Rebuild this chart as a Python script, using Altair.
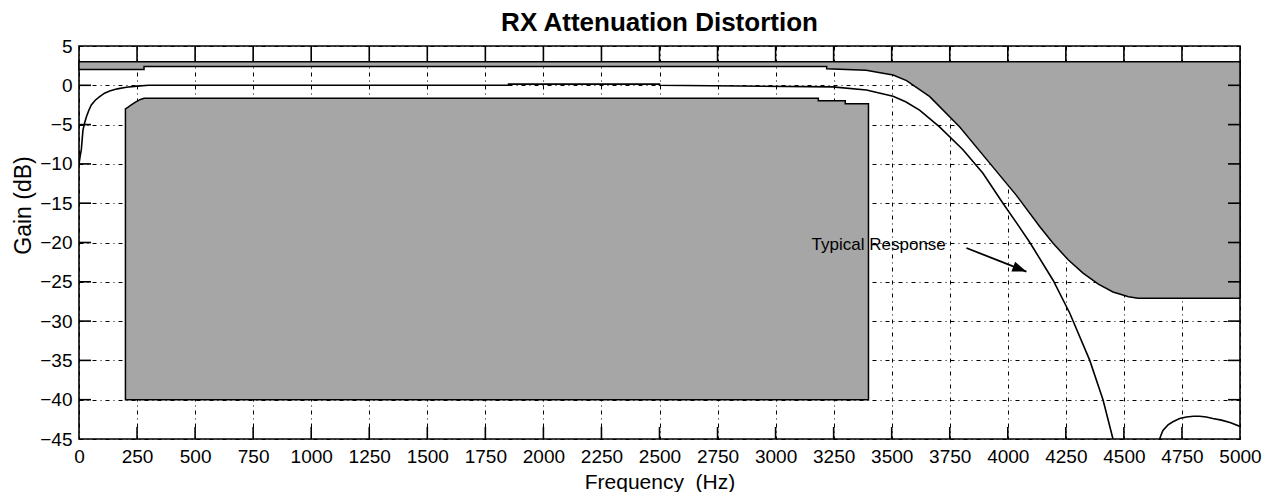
import altair as alt
import pandas as pd

# ---- data ----
# upper limit mask (gray from the limit up to +3 dB)
upper_f = [0, 280, 280, 3220, 3220, 3390, 3450, 3506, 3564, 3664, 3793, 3922, 4037,
           4138, 4195, 4260, 4324, 4390, 4453, 4520, 4561, 5000]
upper_db = [2.0, 2.0, 2.4, 2.4, 2.1, 1.9, 1.6, 1.3, 0.6, -1.45, -5.3, -9.9, -14.0,
            -18.0, -20.1, -22.2, -23.9, -25.3, -26.3, -26.9, -27.1, -27.1]
upper_top = 3.0

# lower limit mask (gray from -40 dB up to the limit)
lower_f = [200, 210, 225, 245, 265, 280, 3184, 3184, 3300, 3300, 3400]
lower_db = [-3.0, -2.8, -2.5, -2.1, -1.8, -1.65, -1.65, -1.95, -1.95, -2.35, -2.35]
lower_bottom = -40.0

# typical response, main lobe
typ_f = [0, 5, 10, 17, 25, 32, 42, 53, 70, 89, 110, 132, 165, 204, 250, 300, 1850,
         1850, 2500, 2500, 3246, 3391, 3506, 3560, 3620, 3706, 3807, 3893, 3979,
         4040, 4095, 4195, 4267, 4353, 4410, 4453]
typ_db = [-10.0, -9.0, -8.2, -5.7, -4.7, -4.0, -3.2, -2.5, -1.9, -1.45, -1.0, -0.73,
          -0.45, -0.25, -0.1, 0.0, 0.0, 0.15, 0.15, 0.0, -0.2, -0.6, -1.4, -2.1,
          -3.15, -5.3, -8.2, -11.2, -15.0, -17.6, -20.0, -24.8, -29.0, -35.0,
          -40.0, -45.0]
# typical response, second lobe
lobe_f = [4654, 4660, 4668, 4690, 4711, 4740, 4769, 4800, 4826, 4855, 4883, 4920,
          4957, 5000]
lobe_db = [-45.0, -44.5, -43.9, -43.2, -42.8, -42.4, -42.2, -42.1, -42.1, -42.2,
           -42.4, -42.6, -42.9, -43.4]

x_ticks = list(range(0, 5001, 250))
y_ticks = list(range(-45, 6, 5))
x_inner = x_ticks[1:-1]
y_inner = y_ticks[1:-1]

note_text = "Typical Response"
note_f, note_db = 3444, -20.3
arrow_f = [3822, 4080]
arrow_db = [-20.7, -23.7]

# ---- chart ----
W, H = 1161, 393
FONT = "Liberation Sans"

xs = alt.Scale(domain=[0, 5000], nice=False, zero=False)
ys = alt.Scale(domain=[-45, 5], nice=False, zero=False)

upper_df = pd.DataFrame({"f": upper_f, "db": upper_db, "top": upper_top})
lower_df = pd.DataFrame({"f": lower_f, "db": lower_db, "bot": lower_bottom})
curve_df = pd.DataFrame({
    "f": typ_f + lobe_f,
    "db": typ_db + lobe_db,
    "seg": ["main"] * len(typ_f) + ["lobe"] * len(lobe_f),
    "o": list(range(len(typ_f))) + list(range(len(lobe_f))),
})

xaxis = alt.Axis(values=x_ticks, format="d", grid=True, ticks=False, domain=False,
                 labelFontSize=19, labelFont=FONT, labelColor="black",
                 labelPadding=8, labelFlush=False, labelOverlap=False,
                 title="Frequency\u00a0 (Hz)", titleFontSize=21, titleFont=FONT,
                 titleFontWeight="normal", titleColor="black",
                 titleY=43, titleBaseline="middle",
                 gridColor="black", gridDash=[4, 4, 1, 4], gridWidth=1, gridOpacity=1)
yaxis = alt.Axis(values=y_ticks, format="d", grid=True, ticks=False, domain=False,
                 labelFontSize=19, labelFont=FONT, labelColor="black",
                 labelPadding=7, labelFlush=False, labelOverlap=False,
                 title="Gain (dB)", titleFontSize=23, titleFont=FONT,
                 titleFontWeight="normal", titleColor="black",
                 titleX=-56, titleY=159, titleAlign="center", titleBaseline="middle",
                 titleAngle=-90,
                 gridColor="black", gridDash=[4, 4, 1, 4], gridWidth=1, gridOpacity=1)

X = lambda: alt.X("f:Q", scale=xs, axis=xaxis)
Y = lambda: alt.Y("db:Q", scale=ys, axis=yaxis)

upper = alt.Chart(upper_df).mark_area(color="#a6a6a6", stroke="black", strokeWidth=1.5,
                                      opacity=1, interpolate="linear").encode(
    x=X(), y=Y(), y2="top:Q")

lower = alt.Chart(lower_df).mark_area(color="#a6a6a6", stroke="black", strokeWidth=1.5,
                                      opacity=1, interpolate="linear").encode(
    x=X(), y=Y(), y2="bot:Q")

curves = alt.Chart(curve_df).mark_line(color="black", strokeWidth=1.6, clip=True).encode(
    x=X(), y=Y(), detail="seg:N", order="o:Q")

note = alt.Chart(pd.DataFrame({"f": [note_f], "db": [note_db], "t": [note_text]})).mark_text(
    font=FONT, fontSize=17, color="black", align="center", baseline="middle"
).encode(x=X(), y=Y(), text="t:N")

arrow_df = pd.DataFrame({"f": arrow_f, "db": arrow_db})
shaft = alt.Chart(arrow_df).mark_line(color="black", strokeWidth=1.8).encode(x=X(), y=Y())
head = alt.Chart(arrow_df.iloc[[1]]).mark_point(
    shape="M0,0 L-2,-0.75 L-2,0.75 Z", filled=True, color="black", opacity=1,
    size=196, angle=21
).encode(x=X(), y=Y())

xt = pd.DataFrame({"f": x_inner})
yt = pd.DataFrame({"db": y_inner})
tick_style = dict(color="black", strokeWidth=1.6)
t_bottom = alt.Chart(xt).mark_rule(**tick_style).encode(
    x=X(), y=alt.value(H), y2=alt.value(H - 12))
t_top = alt.Chart(xt).mark_rule(**tick_style).encode(
    x=X(), y=alt.value(0), y2=alt.value(15))
t_left = alt.Chart(yt).mark_rule(**tick_style).encode(
    y=Y(), x=alt.value(0), x2=alt.value(12))
t_right = alt.Chart(yt).mark_rule(**tick_style).encode(
    y=Y(), x=alt.value(W), x2=alt.value(W - 12))

chart = alt.layer(
    upper, lower, curves, note, shaft, head,
    t_bottom, t_top, t_left, t_right
).properties(
    width=W, height=H,
    title=alt.TitleParams("RX Attenuation Distortion", font=FONT, fontSize=26,
                          fontWeight="bold", color="black", anchor="middle", offset=1),
    autosize=alt.AutoSizeParams(type="none"),
    padding={"left": 71, "top": 38, "right": 26, "bottom": 53},
).configure(background="white").configure_view(stroke="black", strokeWidth=1.6)

chart.save("out.html", embed_options={"renderer": "svg", "actions": False})
